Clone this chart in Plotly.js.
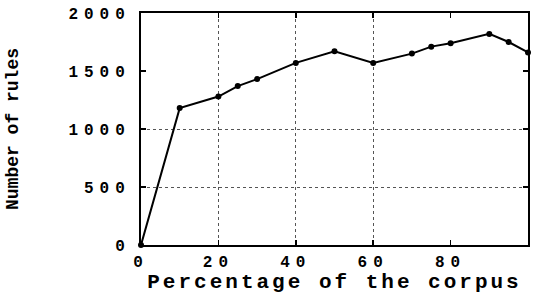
<!DOCTYPE html>
<html>
<head>
<meta charset="utf-8">
<script src="https://cdn.plot.ly/plotly-3.0.1.min.js"></script>
<style>
  html, body { margin: 0; padding: 0; background: #fff; }
  #chart { width: 551px; height: 294px; }
  .xtick text, .ytick text { letter-spacing: 6px; }
  .xtitle { letter-spacing: 3px; }
</style>
</head>
<body>
<div id="chart"></div>
<script>
// Data
const percentCorpus = [0, 10, 20, 25, 30, 40, 50, 60, 70, 75, 80, 90, 95, 100];
const numberOfRules = [0, 1180, 1280, 1370, 1430, 1570, 1670, 1570, 1650, 1710, 1740, 1820, 1750, 1660];
const xTicks = [0, 20, 40, 60, 80, 100];
const yTicks = [0, 500, 1000, 1500, 2000];
const xGrid = [20, 40, 60];
const yGrid = [500, 1000];

const tickFont = { family: 'Liberation Mono, Courier New, monospace', size: 16, color: '#000', weight: 'bold' };

const traces = [
  {
    x: percentCorpus,
    y: numberOfRules,
    mode: 'lines+markers',
    line: { color: '#000', width: 2 },
    marker: { color: '#000', size: 6, symbol: 'circle' },
    hoverinfo: 'x+y',
    xaxis: 'x',
    yaxis: 'y',
    cliponaxis: false
  },
  {
    x: [xTicks[0], xTicks[xTicks.length - 1]],
    y: [yTicks[0], yTicks[yTicks.length - 1]],
    mode: 'none',
    hoverinfo: 'skip',
    showlegend: false,
    xaxis: 'x2',
    yaxis: 'y2'
  }
];

const layout = {
  width: 551,
  height: 294,
  margin: { l: 141, r: 23, t: 13, b: 49 },
  paper_bgcolor: '#fff',
  plot_bgcolor: 'rgba(0,0,0,0)',
  showlegend: false,
  font: tickFont,
  xaxis: {
    range: [0, 100],
    tickvals: xTicks,
    ticktext: xTicks.map(String),
    showgrid: false,
    zeroline: false,
    showline: true,
    linecolor: '#000',
    linewidth: 2,
    mirror: 'ticks',
    ticks: 'inside',
    ticklen: 5,
    tickwidth: 1.5,
    tickcolor: '#000',
    tickfont: tickFont,
    ticklabelstandoff: 1,
    title: {
      text: 'Percentage of the corpus',
      font: { family: 'Liberation Mono, Courier New, monospace', size: 21, color: '#000', weight: 'bold' },
      standoff: 2
    }
  },
  yaxis: {
    range: [0, 2000],
    tickvals: yTicks,
    ticktext: yTicks.map(String),
    showgrid: false,
    zeroline: false,
    showline: true,
    linecolor: '#000',
    linewidth: 2,
    mirror: 'ticks',
    ticks: 'inside',
    ticklen: 5,
    tickwidth: 1.5,
    tickcolor: '#000',
    tickfont: tickFont,
    ticklabelstandoff: 5,
    title: {
      text: 'Number of rules',
      font: { family: 'Liberation Mono, Courier New, monospace', size: 18, color: '#000', weight: 'bold' },
      standoff: 45
    }
  },
  xaxis2: {
    overlaying: 'x',
    matches: 'x',
    range: [0, 100],
    tickvals: xGrid,
    showticklabels: false,
    ticks: '',
    showgrid: true,
    gridcolor: '#555',
    griddash: 'dot',
    gridwidth: 1,
    zeroline: false,
    showline: false
  },
  yaxis2: {
    overlaying: 'y',
    matches: 'y',
    range: [0, 2000],
    tickvals: yGrid,
    showticklabels: false,
    ticks: '',
    showgrid: true,
    gridcolor: '#555',
    griddash: 'dot',
    gridwidth: 1,
    zeroline: false,
    showline: false
  }
};

Plotly.newPlot('chart', traces, layout, { displayModeBar: false, staticPlot: true });
</script>
</body>
</html>
